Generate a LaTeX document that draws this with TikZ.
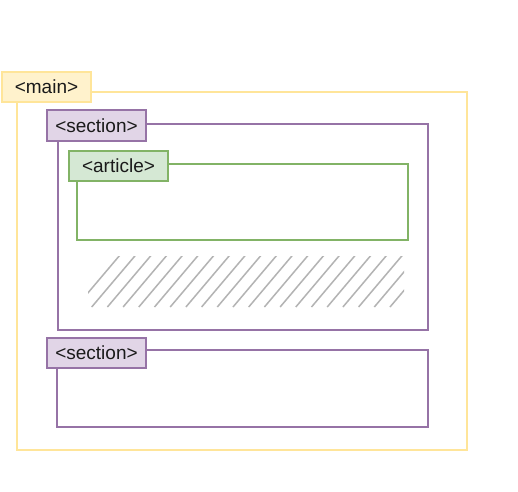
\documentclass[tikz,border=0pt]{standalone}
\usepackage{fontspec}
\setmainfont{Liberation Sans}
\definecolor{ystroke}{HTML}{FFE599}
\definecolor{yfill}{HTML}{FFF2CC}
\definecolor{pstroke}{HTML}{9673A6}
\definecolor{pfill}{HTML}{E1D5E7}
\definecolor{gstroke}{HTML}{82B366}
\definecolor{gfill}{HTML}{D5E8D4}
\definecolor{hatchc}{HTML}{B3B3B3}
\definecolor{txt}{HTML}{1A1A1A}
\begin{document}
\begin{tikzpicture}[x=1pt,y=-1pt,
  frame/.style={draw, line width=2.8pt, inner sep=0pt, outer sep=0pt, anchor=north west, fill=white},
  tag/.style={draw, line width=2.8pt, inner sep=0pt, outer sep=0pt, anchor=north west,
    text=txt, font=\fontsize{19}{22}\selectfont, align=center}]
\useasboundingbox (0,0) rectangle (518,491);
% main
\node[frame, draw=ystroke, minimum width=450pt, minimum height=358pt] (mainbox) at (17,92) {};
% section 1
\node[frame, draw=pstroke, minimum width=370pt, minimum height=206pt] (sec1) at (58,124) {};
% article
\node[frame, draw=gstroke, minimum width=331pt, minimum height=76pt] (art) at (77,164) {};
% hatch
\begin{scope}
  \clip (88,256) rectangle (404,307);
  \foreach \i in {0,...,22} {
    \draw[hatchc, line width=1.5pt] ({76+\i*15.7},307) -- ({120+\i*15.7},255);
  }
\end{scope}
% section 2
\node[frame, draw=pstroke, minimum width=371pt, minimum height=77pt] (sec2) at (57,350) {};
% labels
\node[tag, draw=ystroke, fill=yfill, minimum width=89pt, minimum height=30pt] (mainlbl) at (2,72) {<main>};
\node[tag, draw=pstroke, fill=pfill, minimum width=99pt, minimum height=31pt] (sec1lbl) at (47,110) {<section>};
\node[tag, draw=gstroke, fill=gfill, minimum width=99pt, minimum height=30pt] (artlbl) at (69,151) {<article>};
\node[tag, draw=pstroke, fill=pfill, minimum width=99pt, minimum height=30pt] (sec2lbl) at (47,338) {<section>};
\end{tikzpicture}
\end{document}
